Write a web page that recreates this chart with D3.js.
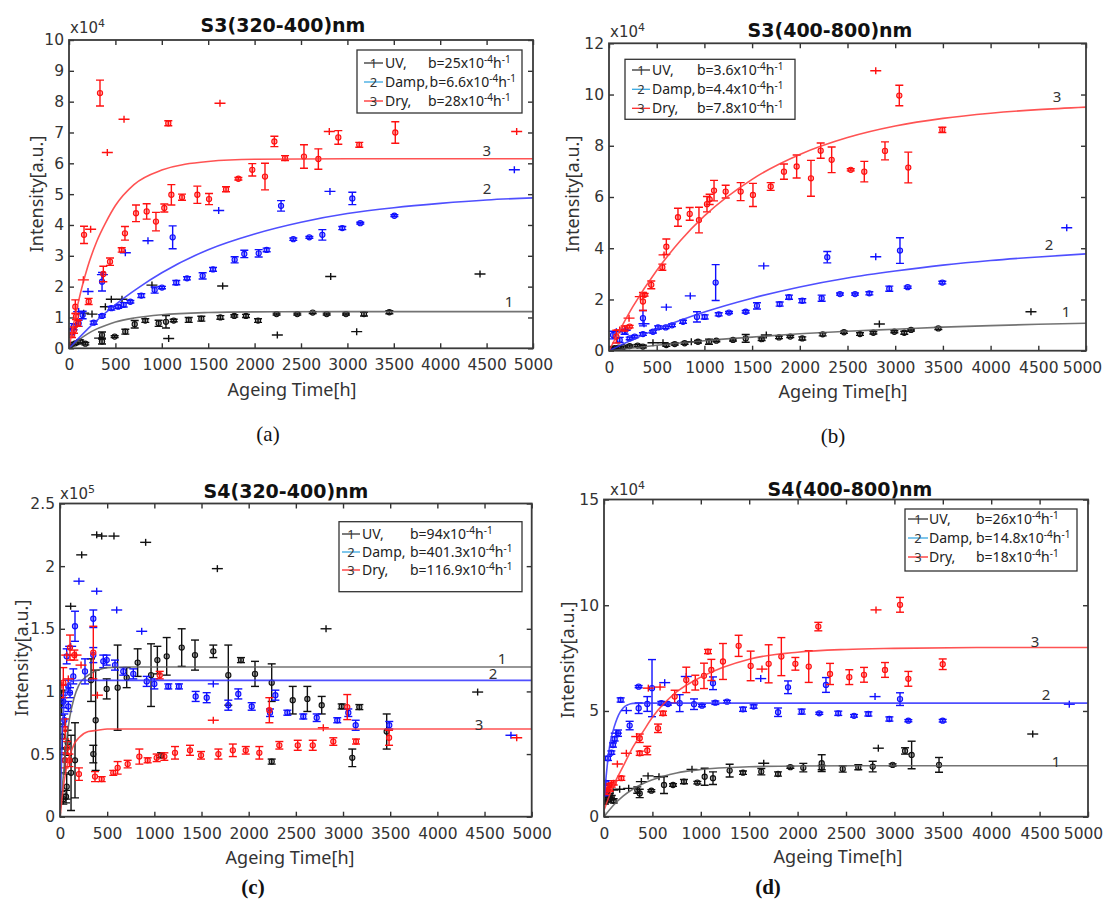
<!DOCTYPE html>
<html><head><meta charset="utf-8">
<script src="https://cdn.jsdelivr.net/npm/d3@7"></script>
<style>body{margin:0;background:#fff}svg{display:block}</style>
</head><body><svg id="chart" width="1105" height="907"></svg>
<script>
// ---------------- DATA ----------------
const xTicks = [0,500,1000,1500,2000,2500,3000,3500,4000,4500,5000];
const aYTicks = [0,1,2,3,4,5,6,7,8,9,10];
const bYTicks = [0,2,4,6,8,10,12];
const cYTicks = [0,0.5,1,1.5,2,2.5];
const dYTicks = [0,5,10,15];
const seriesNames = ['UV,','Damp,','Dry,'];
const aB = ['25','6.6','28'];
const bB = ['3.6','4.4','7.8'];
const cB = ['94','401.3','116.9'];
const dB = ['26','14.8','18'];

// panel (a) S3(320-400)nm, x10^4 ; [t, value, err] / [t, value]
const a_uv_err = [[20,0.11,0.03],[68,0.16,0.04],[120,0.22,0.05],[176,0.15,0.04],[356,0.43,0.1],[356,0.22,0.08],[492,0.38,0.03],[607,0.54,0.08],[708,0.78,0.12],[822,0.9,0.06],[966,0.81,0.1],[1045,0.86,0.2],[1128,0.9,0.04],[1290,0.92,0.08],[1426,0.96,0.08],[1631,1.0,0.06],[1781,1.05,0.04],[1907,1.05,0.05],[2037,0.9,0.06],[2237,1.11,0.03],[2460,1.11,0.03],[2626,1.16,0.03],[2777,1.11,0.03],[2985,1.11,0.03],[3179,1.11,0.06],[3452,1.17,0.05]];
const a_uv_plus = [[158,1.14],[248,1.11],[330,0.33],[392,1.35],[456,1.59],[571,1.59],[894,2.05],[1074,0.32],[1656,2.02],[2245,0.43],[2820,2.33],[3100,0.54],[4429,2.41]];
const a_damp_err = [[25,0.54,0.1],[50,0.7,0.1],[104,0.81,0.1],[147,1.08,0.12],[266,0.83,0.05],[356,2.16,0.3],[356,1.05,0.04],[456,1.3,0.06],[530,1.35,0.05],[589,1.41,0.07],[661,1.51,0.04],[779,1.71,0.06],[923,1.89,0.1],[1002,1.97,0.04],[1117,3.6,0.37],[1156,2.13,0.07],[1272,2.27,0.05],[1440,2.35,0.1],[1552,2.56,0.06],[1785,2.87,0.1],[1889,3.06,0.12],[2044,3.08,0.12],[2130,3.19,0.06],[2285,4.62,0.17],[2417,3.54,0.04],[2590,3.6,0.03],[2730,3.68,0.17],[2945,3.9,0.05],[3053,4.86,0.2],[3139,4.06,0.03],[3506,4.3,0.03]];
const a_damp_plus = [[104,1.19],[205,1.84],[360,2.39],[607,3.1],[851,3.49],[1613,4.47],[2812,5.09],[4799,5.79]];
const a_dry_err = [[32,0.43,0.08],[54,0.59,0.1],[68,1.35,0.22],[75,1.03,0.1],[97,0.81,0.1],[162,3.68,0.28],[212,1.52,0.1],[334,8.28,0.42],[370,2.41,0.25],[442,2.81,0.12],[568,3.19,0.07],[603,3.73,0.22],[722,4.38,0.27],[837,4.44,0.25],[937,4.11,0.3],[1027,4.55,0.13],[1070,7.3,0.08],[1103,4.98,0.33],[1218,4.9,0.1],[1383,4.98,0.28],[1509,4.84,0.18],[1692,5.16,0.08],[1825,5.5,0.04],[1975,5.79,0.2],[2112,5.57,0.43],[2213,6.71,0.17],[2328,6.17,0.08],[2532,6.22,0.38],[2687,6.14,0.33],[2902,6.84,0.22],[3128,6.6,0.08],[3516,7.0,0.35]];
const a_dry_plus = [[155,2.22],[233,3.86],[413,6.35],[593,7.43],[1627,7.95],[2805,7.03],[4824,7.03]];
const a_uv_fit = [[0,0],[100,0.26],[200,0.47],[300,0.63],[400,0.75],[500,0.85],[700,0.98],[1000,1.09],[1500,1.16],[2000,1.18],[3000,1.19],[5000,1.19]];
const a_damp_fit = [[0,0],[250,0.77],[500,1.42],[750,1.97],[1000,2.45],[1500,3.2],[2000,3.71],[2500,4.09],[3000,4.37],[3500,4.56],[4000,4.7],[4500,4.81],[5000,4.88]];
const a_dry_fit = [[0,0],[50,0.8],[100,1.49],[150,2.1],[200,2.63],[300,3.47],[400,4.1],[500,4.63],[700,5.31],[1000,5.78],[1500,6.06],[2000,6.13],[3000,6.15],[5000,6.15]];

// panel (b) S3(400-800)nm, x10^4
const b_uv_err = [[30,0.08,0.04],[60,0.1,0.04],[100,0.12,0.04],[150,0.14,0.04],[217,0.18,0.04],[300,0.2,0.04],[356,0.16,0.05],[601,0.22,0.05],[689,0.26,0.04],[793,0.29,0.04],[933,0.35,0.05],[1048,0.35,0.1],[1125,0.39,0.04],[1300,0.42,0.04],[1433,0.48,0.15],[1600,0.45,0.05],[1782,0.52,0.05],[1900,0.55,0.04],[2026,0.48,0.06],[2240,0.64,0.06],[2463,0.72,0.04],[2631,0.65,0.05],[2771,0.7,0.05],[2991,0.74,0.04],[3095,0.7,0.06],[3166,0.81,0.04],[3452,0.87,0.04]];
const b_uv_plus = [[461,0.31],[566,0.31],[863,0.35],[1649,0.61],[2834,1.04],[4423,1.52]];
const b_damp_err = [[42,0.61,0.15],[112,0.42,0.1],[164,0.74,0.1],[217,0.48,0.05],[269,0.55,0.05],[356,1.27,0.3],[356,0.65,0.05],[461,0.74,0.05],[514,0.91,0.06],[594,0.91,0.05],[660,0.99,0.05],[776,1.13,0.06],[922,1.32,0.2],[1003,1.32,0.08],[1118,2.66,0.7],[1150,1.42,0.06],[1258,1.49,0.04],[1433,1.52,0.05],[1551,1.75,0.12],[1789,1.82,0.08],[1887,2.09,0.08],[2026,1.95,0.08],[2229,2.05,0.12],[2288,3.65,0.22],[2421,2.21,0.04],[2579,2.21,0.04],[2729,2.24,0.06],[2938,2.42,0.1],[3050,3.91,0.5],[3131,2.48,0.04],[3494,2.66,0.05]];
const b_damp_plus = [[77,0.74],[170,0.8],[367,1.05],[601,1.7],[852,2.14],[1622,3.31],[2796,3.67],[4798,4.8]];
const b_dry_err = [[77,0.55,0.25],[164,0.87,0.1],[217,0.94,0.05],[356,1.92,0.35],[374,2.18,0.05],[443,2.57,0.15],[559,3.26,0.12],[601,4.06,0.3],[723,5.21,0.35],[846,5.34,0.25],[943,5.1,0.5],[1027,5.72,0.3],[1055,5.91,0.2],[1101,6.25,0.4],[1223,6.21,0.25],[1380,6.21,0.35],[1509,6.08,0.45],[1695,6.41,0.15],[1834,6.99,0.3],[1967,7.19,0.45],[2117,6.73,0.7],[2219,7.81,0.3],[2334,7.45,0.5],[2534,7.06,0.04],[2676,6.99,0.4],[2893,7.8,0.35],[3043,9.96,0.4],[3137,7.15,0.6],[3494,8.62,0.1]];
const b_dry_plus = [[112,0.81],[210,1.27],[328,2.11],[577,3.74],[2796,10.93]];
const b_uv_fit = [[0,0],[500,0.21],[1000,0.39],[1500,0.53],[2000,0.66],[2500,0.76],[3000,0.84],[3500,0.92],[4000,0.98],[4500,1.03],[5000,1.07]];
const b_damp_fit = [[0,0],[250,0.44],[500,0.84],[750,1.19],[1000,1.51],[1500,2.05],[2000,2.49],[2500,2.84],[3000,3.11],[3500,3.34],[4000,3.52],[4500,3.66],[5000,3.78]];
const b_dry_fit = [[0,0],[250,1.72],[500,3.13],[750,4.3],[1000,5.26],[1500,6.69],[2000,7.66],[2500,8.32],[3000,8.77],[3500,9.07],[4000,9.27],[4500,9.41],[5000,9.51]];

// panel (c) S4(320-400)nm, x10^5
const c_uv_err = [[11,0.16,0.04],[18,0.91,0.1],[25,0.64,0.1],[35,0.14,0.04],[53,0.45,0.1],[64,0.16,0.05],[71,0.24,0.1],[81,0.59,0.1],[117,0.35,0.3],[159,0.45,0.3],[329,1.09,0.17],[353,0.5,0.07],[378,0.77,0.4],[495,1.02,0.08],[611,1.03,0.34],[707,1.11,0.08],[823,1.23,0.11],[965,1.13,0.25],[1032,1.25,0.11],[1071,0.49,0.02],[1131,1.28,0.15],[1290,1.35,0.15],[1431,1.29,0.12],[1625,1.32,0.05],[1784,1.13,0.24],[1918,1.25,0.02],[2067,1.14,0.1],[2244,1.07,0.15],[2244,0.44,0.02],[2467,0.93,0.11],[2622,0.94,0.1],[2774,0.89,0.07],[2986,0.88,0.02],[3098,0.47,0.07],[3173,0.875,0.02],[3463,0.68,0.14]];
const c_uv_plus = [[113,1.68],[230,2.09],[389,2.25],[442,2.24],[572,2.24],[908,2.19],[1668,1.98],[2820,1.5],[4427,0.995]];
const c_damp_err = [[35,0.92,0.05],[46,0.77,0.05],[71,1.28,0.06],[88,1.04,0.05],[88,0.88,0.04],[106,0.99,0.04],[141,1.12,0.06],[159,1.52,0.12],[265,1.16,0.1],[353,1.58,0.07],[353,1.29,0.06],[459,1.24,0.05],[495,1.25,0.04],[583,1.21,0.04],[671,1.16,0.03],[777,1.14,0.04],[919,1.08,0.04],[1000,1.06,0.04],[1148,1.04,0.02],[1261,1.04,0.02],[1438,0.96,0.04],[1555,0.95,0.04],[1784,0.89,0.04],[1890,0.98,0.04],[2032,0.88,0.03],[2226,0.83,0.03],[2283,0.97,0.04],[2410,0.83,0.02],[2579,0.8,0.02],[2721,0.79,0.03],[2939,0.77,0.02],[3056,0.83,0.03],[3134,0.73,0.04],[3490,0.73,0.03]];
const c_damp_plus = [[113,1.36],[201,1.88],[389,1.8],[601,1.65],[866,1.48],[1625,1.06],[4780,0.65]];
const c_dry_err = [[35,1.07,0.12],[50,0.45,0.06],[55,0.7,0.08],[75,0.55,0.05],[100,0.45,0.05],[106,1.35,0.1],[152,1.29,0.04],[201,0.34,0.05],[353,1.31,0.21],[371,0.32,0.04],[442,0.3,0.02],[565,0.35,0.02],[611,0.39,0.05],[717,0.42,0.03],[841,0.48,0.06],[929,0.45,0.02],[1025,0.47,0.03],[1057,1.13,0.03],[1106,0.48,0.03],[1219,0.51,0.05],[1378,0.53,0.04],[1495,0.49,0.03],[1679,0.5,0.04],[1832,0.53,0.05],[1969,0.53,0.03],[2113,0.51,0.05],[2219,0.85,0.1],[2325,0.57,0.03],[2520,0.57,0.04],[2679,0.57,0.04],[2897,0.6,0.03],[3045,0.875,0.1],[3138,0.6,0.02],[3488,0.63,0.06]];
const c_dry_plus = [[20,1.05],[71,1.29],[88,1.1],[170,1.29],[223,1.21],[396,0.97],[1625,0.77],[2791,0.71],[4841,0.63]];
const c_uv_fit = [[0,0],[50,0.45],[100,0.78],[150,0.95],[200,1.05],[300,1.13],[400,1.17],[500,1.19],[700,1.195],[5000,1.195]];
const c_damp_fit = [[0,0],[25,0.69],[50,0.94],[75,1.04],[100,1.07],[150,1.085],[200,1.088],[5000,1.088]];
const c_dry_fit = [[0,0],[50,0.31],[100,0.48],[150,0.58],[200,0.63],[300,0.68],[400,0.69],[500,0.7],[5000,0.7]];

// panel (d) S4(400-800)nm, x10^4
const d_uv_err = [[10,0.7,0.1],[20,0.9,0.1],[30,1.1,0.15],[45,0.8,0.1],[60,1.0,0.1],[80,0.9,0.1],[100,0.75,0.1],[344,1.26,0.15],[369,1.1,0.2],[489,1.23,0.05],[620,1.5,0.4],[713,1.5,0.06],[826,1.66,0.1],[964,1.61,0.06],[1040,1.89,0.4],[1126,1.82,0.3],[1298,2.18,0.3],[1436,2.08,0.08],[1625,2.13,0.15],[1798,2.02,0.1],[1925,2.34,0.05],[2059,2.32,0.2],[2249,2.53,0.4],[2249,2.32,0.1],[2466,2.26,0.15],[2627,2.34,0.12],[2776,2.37,0.25],[2982,2.45,0.05],[3110,3.11,0.15],[3178,2.92,0.65],[3461,2.45,0.35]];
const d_uv_plus = [[93,1.26],[162,1.3],[255,1.34],[386,1.66],[455,1.93],[568,1.89],[909,2.24],[1650,2.53],[2834,3.24],[4429,3.91]];
const d_damp_err = [[10,1.1,0.1],[20,1.6,0.1],[41,2.76,0.1],[76,3.03,0.08],[93,3.39,0.1],[110,3.68,0.1],[145,3.95,0.15],[172,5.52,0.1],[265,4.31,0.2],[358,6.15,0.05],[358,5.13,0.25],[447,5.33,0.35],[496,6.08,1.35],[592,5.37,0.08],[661,5.33,0.05],[782,5.37,0.4],[930,5.32,0.25],[1012,5.25,0.05],[1126,6.31,0.3],[1150,5.39,0.08],[1271,5.44,0.06],[1436,5.08,0.1],[1546,5.21,0.08],[1798,4.94,0.2],[1901,6.12,0.3],[2042,4.97,0.12],[2224,4.89,0.05],[2293,6.23,0.35],[2420,4.89,0.1],[2583,4.77,0.06],[2731,4.86,0.1],[2948,4.62,0.1],[3058,5.56,0.3],[3144,4.54,0.05],[3499,4.54,0.06]];
const d_damp_plus = [[127,3.95],[231,5.02],[627,6.34],[850,6.63],[1619,6.53],[2800,5.68],[4807,5.32]];
const d_dry_err = [[20,1.2,0.15],[41,1.42,0.15],[60,1.3,0.1],[80,1.5,0.1],[100,1.6,0.1],[179,1.82,0.1],[369,3.0,0.1],[369,3.71,0.2],[447,3.13,0.2],[558,4.18,0.2],[610,4.89,0.1],[730,5.68,0.3],[850,6.47,0.6],[943,6.34,0.35],[1033,6.66,0.6],[1074,7.81,0.1],[1109,6.94,0.5],[1229,7.34,0.85],[1391,8.08,0.5],[1515,7.13,0.7],[1701,7.23,0.9],[1832,7.57,0.9],[1977,7.23,0.3],[2115,7.1,0.75],[2214,8.99,0.2],[2335,6.75,0.5],[2534,6.6,0.35],[2686,6.71,0.35],[2903,6.94,0.35],[3058,10.02,0.35],[3144,6.52,0.35],[3499,7.21,0.25]];
const d_dry_plus = [[138,2.49],[231,3.0],[338,3.79],[458,6.08],[579,6.13],[1632,6.98],[2810,9.78]];
const d_uv_fit = [[0,0],[100,0.55],[200,0.98],[300,1.31],[400,1.56],[500,1.75],[750,2.07],[1000,2.23],[1500,2.36],[2000,2.4],[3000,2.41],[5000,2.41]];
const d_damp_fit = [[0,0.8],[20,1.8],[40,2.7],[60,3.4],[90,4.0],[120,4.45],[150,4.8],[200,5.15],[250,5.3],[300,5.36],[400,5.37],[5000,5.37]];
const d_dry_fit = [[0,0.3],[100,1.5],[200,2.4],[300,3.3],[400,4.0],[500,4.7],[750,5.9],[1000,6.6],[1500,7.45],[2000,7.78],[2500,7.91],[3000,7.96],[4000,8.0],[5000,8.0]];

// ---------------- LAYOUT / STYLE ----------------
const PT = ['#111111','#1010ff','#ff1010'];      // data colours uv, damp, dry
const FT = ['#5a5a5a','#3030ff','#ff3535'];      // fit curve colours
const LG = ['#333333','#38a8e0','#ff2a2a'];      // legend line colours
const panels = [
  {title:'S3(320-400)nm', tXY:[283,25], exp:'4', eXY:[70,33], yMax:10, yTicks:aYTicks,
   box:[69,40,533,348.3], bv:aB, lastShift:0,
   s:[[a_uv_err,a_uv_plus,a_uv_fit],[a_damp_err,a_damp_plus,a_damp_fit],[a_dry_err,a_dry_plus,a_dry_fit]],
   leg:{x:357,y:50,w:165,h:63,rows:[63,82,101],l0:364,l1:383,nx:385,bx:428},
   nums:[[4741,1.51],[4504,5.17],[4501,6.4]], xT:[292,390], yT:[37,194], cap:'(a)', cXY:[268,434], cb:false},
  {title:'S3(400-800)nm', tXY:[830,30], exp:'4', eXY:[610,37], yMax:12, yTicks:bYTicks,
   box:[609,43.3,1086,350.7], bv:bB, lastShift:-4,
   s:[[b_uv_err,b_uv_plus,b_uv_fit],[b_damp_err,b_damp_plus,b_damp_fit],[b_dry_err,b_dry_plus,b_dry_fit]],
   leg:{x:625,y:59.3,w:170,h:60,rows:[70,89.3,108.3],l0:632,l1:650,nx:652,bx:697},
   nums:[[4790,1.52],[4612,4.13],[4696,9.91]], xT:[843,392], yT:[573,194], cap:'(b)', cXY:[833,436], cb:false},
  {title:'S4(320-400)nm', tXY:[286,491], exp:'5', eXY:[60,499], yMax:2.5, yTicks:cYTicks,
   box:[60,503.5,531.7,816.7], bv:cB, lastShift:0,
   s:[[c_uv_err,c_uv_plus,c_uv_fit],[c_damp_err,c_damp_plus,c_damp_fit],[c_dry_err,c_dry_plus,c_dry_fit]],
   leg:{x:339,y:521.7,w:183,h:70,rows:[534,552,570],l0:342,l1:360,nx:362,bx:410},
   nums:[[4685,1.26],[4590,1.14],[4441,0.73]], xT:[290,858], yT:[22,658], cap:'(c)', cXY:[253,887], cb:true},
  {title:'S4(400-800)nm', tXY:[850,489], exp:'4', eXY:[610,495], yMax:15, yTicks:dYTicks,
   box:[604,499.5,1088,816.7], bv:dB, lastShift:-5,
   s:[[d_uv_err,d_uv_plus,d_uv_fit],[d_damp_err,d_damp_plus,d_damp_fit],[d_dry_err,d_dry_plus,d_dry_fit]],
   leg:{x:905,y:509,w:172,h:62,rows:[519,538,557],l0:908,l1:928,nx:929,bx:976},
   nums:[[4669,2.59],[4566,5.76],[4452,8.27]], xT:[838,857], yT:[568,660], cap:'(d)', cXY:[768,887], cb:true}
];

const svg = d3.select('#chart');
svg.append('rect').attr('width',1105).attr('height',907).attr('fill','#fff');
const TICKFONT = '"DejaVu Sans", sans-serif';
const SANS = '"Noto Sans", sans-serif';

panels.forEach((p,pi) => {
  const [x0,y0,x1,y1] = p.box;
  const x = d3.scaleLinear().domain([0,5000]).range([x0,x1]);
  const y = d3.scaleLinear().domain([0,p.yMax]).range([y1,y0]);
  const g = svg.append('g');
  const clipId = 'clip'+pi;
  g.append('clipPath').attr('id',clipId).append('rect')
    .attr('x',x0).attr('y',y0).attr('width',x1-x0).attr('height',y1-y0);

  const styleAxis = sel => {
    sel.select('.domain').remove();
    sel.selectAll('.tick line').attr('stroke','#333').attr('stroke-width',1.4);
    sel.selectAll('.tick text').attr('fill','#333').attr('font-family',TICKFONT).attr('font-size',15.5);
  };
  const bx = g.append('g').attr('transform',`translate(0,${y1})`)
    .call(d3.axisBottom(x).tickValues(xTicks).tickSize(-5).tickPadding(11).tickFormat(d=>String(d))).call(styleAxis);
  bx.selectAll('.tick text').filter(d => d === 5000).attr('dx', p.lastShift);
  g.append('g').attr('transform',`translate(0,${y0})`)
    .call(d3.axisTop(x).tickValues(xTicks).tickSize(-5).tickFormat('')).call(styleAxis);
  g.append('g').attr('transform',`translate(${x0},0)`)
    .call(d3.axisLeft(y).tickValues(p.yTicks).tickSize(-5).tickPadding(5).tickFormat(d=>String(d))).call(styleAxis);
  g.append('g').attr('transform',`translate(${x1},0)`)
    .call(d3.axisRight(y).tickValues(p.yTicks).tickSize(-5).tickFormat('')).call(styleAxis);

  const plot = g.append('g').attr('clip-path',`url(#${clipId})`);
  const line = d3.line().x(d=>x(d[0])).y(d=>y(d[1])).curve(d3.curveMonotoneX);

  p.s.forEach((ser,si) => {
    const [errs, plus] = ser;
    const col = PT[si];
    const eg = plot.append('g').attr('stroke',col).attr('stroke-width',1.4).attr('fill','none');
    errs.forEach(d => {
      const cx = x(d[0]), lo = y(d[1]-d[2]), hi = y(d[1]+d[2]);
      eg.append('line').attr('x1',cx).attr('x2',cx).attr('y1',lo).attr('y2',hi);
      eg.append('line').attr('x1',cx-4).attr('x2',cx+4).attr('y1',lo).attr('y2',lo);
      eg.append('line').attr('x1',cx-4).attr('x2',cx+4).attr('y1',hi).attr('y2',hi);
      eg.append('circle').attr('cx',cx).attr('cy',y(d[1])).attr('r',2.6).attr('stroke-width',1.1).attr('fill',col).attr('fill-opacity',0.35);
    });
    const pg = plot.append('g').attr('stroke',col).attr('stroke-width',1.4);
    plus.forEach(d => {
      const cx = x(d[0]), cy = y(d[1]);
      pg.append('line').attr('x1',cx-5.5).attr('x2',cx+5.5).attr('y1',cy).attr('y2',cy);
      pg.append('line').attr('x1',cx).attr('x2',cx).attr('y1',cy-3.5).attr('y2',cy+3.5);
    });
  });
  p.s.forEach((ser,si) => {
    plot.append('path').datum(ser[2]).attr('d',line)
      .attr('fill','none').attr('stroke',FT[si]).attr('stroke-width',1.6).attr('stroke-opacity',0.85);
  });
  p.nums.forEach((d,i) => {
    g.append('text').attr('x',x(d[0])).attr('y',y(d[1])).attr('dy','0.35em')
      .attr('text-anchor','middle').attr('font-family',SANS).attr('font-size',15).attr('fill','#333').text(String(i+1));
  });

  g.append('rect').attr('x',x0).attr('y',y0).attr('width',x1-x0).attr('height',y1-y0)
    .attr('fill','none').attr('stroke','#3a3a3a').attr('stroke-width',1.8);

  const L = p.leg;
  const lg = g.append('g');
  lg.append('rect').attr('x',L.x).attr('y',L.y).attr('width',L.w).attr('height',L.h)
    .attr('fill','#fff').attr('stroke','#333').attr('stroke-width',1.3);
  seriesNames.forEach((nm,i) => {
    const ry = L.rows[i];
    lg.append('line').attr('x1',L.l0).attr('x2',L.l1).attr('y1',ry).attr('y2',ry).attr('stroke',LG[i]).attr('stroke-width',1.3);
    lg.append('text').attr('x',(L.l0+L.l1)/2).attr('y',ry).attr('dy','0.35em').attr('text-anchor','middle')
      .attr('font-family',SANS).attr('font-size',13).attr('fill','#333').text(String(i+1));
    const nt = lg.append('text').attr('x',L.nx).attr('y',ry).attr('dy','0.35em')
      .attr('font-family',SANS).attr('font-size',14).attr('fill','#222').text(nm);
    const nEnd = L.nx + nt.node().getComputedTextLength();
    const bt = lg.append('text').attr('x',Math.max(L.bx, nEnd + 1)).attr('y',ry).attr('dy','0.35em')
      .attr('font-family',SANS).attr('font-size',14).attr('fill','#222');
    bt.append('tspan').text('b='+p.bv[i]+'x10');
    bt.append('tspan').attr('dy',-5).attr('font-size',10).text('-4');
    bt.append('tspan').attr('dy',5).text('h');
    bt.append('tspan').attr('dy',-5).attr('font-size',10).text('-1');
  });

  g.append('text').attr('x',p.tXY[0]).attr('y',p.tXY[1]).attr('dy','0.35em').attr('text-anchor','middle')
    .attr('font-family','"DejaVu Sans", sans-serif').attr('font-weight','bold').attr('font-size',19).attr('fill','#111').text(p.title);
  const et = g.append('text').attr('x',p.eXY[0]).attr('y',p.eXY[1])
    .attr('font-family',TICKFONT).attr('font-size',15).attr('fill','#333');
  et.append('tspan').text('x10');
  et.append('tspan').attr('dy',-6).attr('font-size',11).text(p.exp);
  g.append('text').attr('x',p.xT[0]).attr('y',p.xT[1]).attr('dy','0.35em').attr('text-anchor','middle')
    .attr('font-family',SANS).attr('font-size',18).attr('fill','#333').text('Ageing Time[h]');
  g.append('text').attr('transform',`translate(${p.yT[0]},${p.yT[1]}) rotate(-90)`).attr('dy','0.35em')
    .attr('text-anchor','middle').attr('font-family',SANS).attr('font-size',18).attr('fill','#333').text('Intensity[a.u.]');
  g.append('text').attr('x',p.cXY[0]).attr('y',p.cXY[1]).attr('dy','0.35em').attr('text-anchor','middle')
    .attr('font-family','"Liberation Serif", serif').attr('font-size',21)
    .attr('font-weight',p.cb?'bold':'normal').attr('fill','#111').text(p.cap);
});
</script></body></html>
